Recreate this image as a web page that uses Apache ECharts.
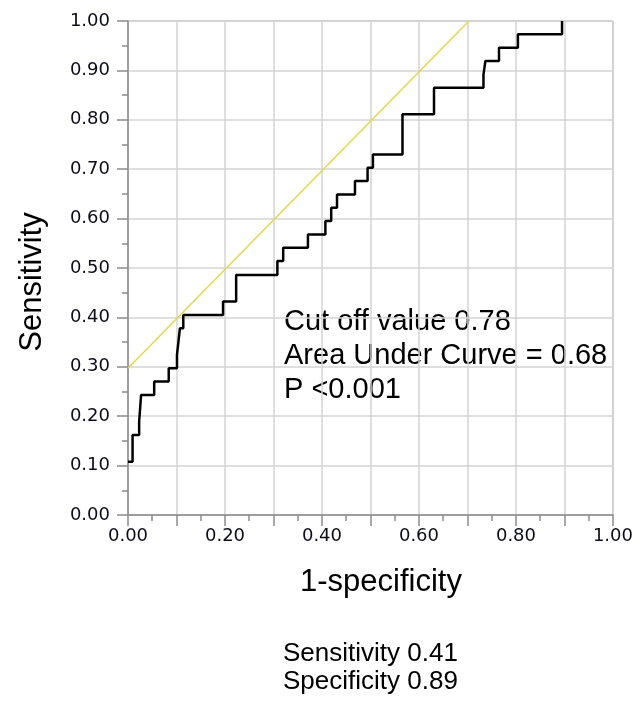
<!DOCTYPE html>
<html>
<head>
<meta charset="utf-8">
<script src="https://cdn.jsdelivr.net/npm/echarts@6/dist/echarts.min.js"></script>
<style>
    html, body { margin: 0; padding: 0; background: #fff; }
    #myCharts { width: 636px; height: 701px; }
</style>
</head>
<body>
<div id="myCharts"></div>
<script>
    // ROC curve corners: x where the step happens, y after the step
    const rocFpr = [0, 0.0094, 0.023, 0.027, 0.054, 0.084, 0.101, 0.104, 0.107, 0.114,
        0.196, 0.223, 0.308, 0.320, 0.371, 0.407, 0.419, 0.431, 0.468, 0.494,
        0.505, 0.566, 0.631, 0.733, 0.737, 0.765, 0.804, 0.895];
    const rocTpr = [0.108, 0.162, 0.189, 0.243, 0.270, 0.297, 0.324, 0.351, 0.378, 0.405,
        0.432, 0.486, 0.514, 0.541, 0.568, 0.595, 0.622, 0.649, 0.676, 0.703,
        0.730, 0.811, 0.865, 0.892, 0.919, 0.946, 0.973, 1.0];
    // cut-off (Youden) line
    const cutFpr = [0, 0.703];
    const cutTpr = [0.297, 1.0];

    const statLines = ['Cut off value 0.78', 'Area Under Curve = 0.68', 'P <0.001'];
    const footLines = ['Sensitivity 0.41', 'Specificity 0.89'];

    const font = '"Liberation Sans", Arial, sans-serif';
    const tickFont = '"DejaVu Sans", Verdana, sans-serif';

    const myCharts = echarts.init(document.getElementById('myCharts'));
    let options = {
        animation: false,
        grid: {
            left: 128, right: 15, top: 21, bottom: 186,
            show: true, borderColor: '#a0a0a0', borderWidth: 1
        },
        xAxis: {
            type: 'value', min: 0, max: 1, interval: 0.1,
            axisLine: { show: true, lineStyle: { color: '#8c8c8c', width: 1.5 } },
            axisTick: { show: true, length: 11, lineStyle: { color: '#8c8c8c', width: 1.5 } },
            minorTick: { show: true, splitNumber: 2, length: 6, lineStyle: { color: '#8c8c8c', width: 1.5 } },
            splitLine: { show: true, lineStyle: { color: '#d4d4d4', width: 1.5 } },
            axisLabel: {
                color: '#0d0d1a', fontFamily: tickFont, fontSize: 18, margin: 12,
                showMinLabel: true, showMaxLabel: true,
                formatter: function (v) {
                    return Math.round(v * 10) % 2 === 0 ? v.toFixed(2) : '';
                }
            }
        },
        yAxis: {
            type: 'value', min: 0, max: 1, interval: 0.1,
            axisLine: { show: true, lineStyle: { color: '#8c8c8c', width: 1.5 } },
            axisTick: { show: true, length: 11, lineStyle: { color: '#8c8c8c', width: 1.5 } },
            minorTick: { show: true, splitNumber: 2, length: 6, lineStyle: { color: '#8c8c8c', width: 1.5 } },
            splitLine: { show: true, lineStyle: { color: '#d4d4d4', width: 1.5 } },
            axisLabel: {
                color: '#0d0d1a', fontFamily: tickFont, fontSize: 18, margin: 18,
                formatter: function (v) { return v.toFixed(2); }
            }
        },
        series: [
            {
                name: 'cutoff',
                type: 'line',
                symbol: 'none',
                lineStyle: { color: '#e5d84a', width: 1.6 },
                data: cutFpr.map((x, i) => [x, cutTpr[i]]),
                z: 2
            },
            {
                name: 'ROC',
                type: 'line',
                step: 'end',
                symbol: 'none',
                lineStyle: { color: '#000', width: 2.5 },
                data: rocFpr.map((x, i) => [x, rocTpr[i]]),
                z: 3
            }
        ],
        graphic: [
            {
                type: 'text', x: 32, y: 282, rotation: Math.PI / 2,
                style: {
                    text: 'Sensitivity', font: '31px ' + font, fill: '#000',
                    align: 'center', verticalAlign: 'middle'
                }
            },
            {
                type: 'text', x: 381, y: 582,
                style: {
                    text: '1-specificity', font: '31px ' + font, fill: '#000',
                    align: 'center', verticalAlign: 'middle'
                }
            },
            {
                type: 'text', x: 284, y: 305,
                style: {
                    text: statLines.join('\n'), font: '29px ' + font, fill: '#000',
                    lineHeight: 34, align: 'left', verticalAlign: 'top'
                }
            },
            {
                type: 'text', x: 283, y: 640,
                style: {
                    text: footLines.join('\n'), font: '26px ' + font, fill: '#000',
                    lineHeight: 28, align: 'left', verticalAlign: 'top'
                }
            }
        ]
    };
    myCharts.setOption(options);
</script>
</body>
</html>
